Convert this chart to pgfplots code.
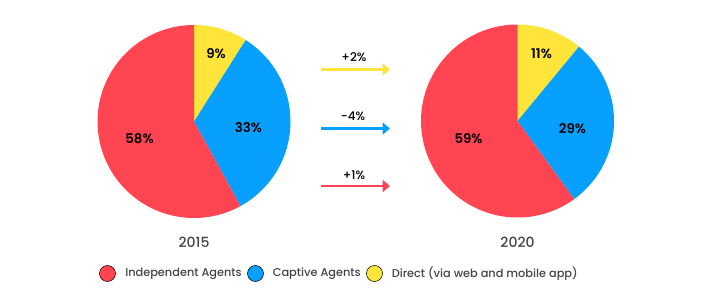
\documentclass[border=0pt]{standalone}
\usepackage{pgfplots}
\pgfplotsset{compat=1.18}
\usetikzlibrary{arrows.meta}
\usepackage{fontspec}
\setmainfont{Poppins}[BoldFont={Poppins SemiBold}]
\newfontfamily\med{Poppins Medium}
\definecolor{pred}{RGB}{255,68,82}
\definecolor{pblue}{RGB}{8,160,255}
\definecolor{pyel}{RGB}{255,228,58}
\definecolor{tgrey}{RGB}{68,68,68}
% pie values (percent)
\def\LDirect{9}\def\LCaptive{33}\def\LIndep{58}
\def\RDirect{11}\def\RCaptive{29}\def\RIndep{59}
\def\Rad{96.5}
\newcommand{\pieslice}[5]{% cx, cy, start cum %, end cum %, colour
  \addplot[fill=#5, draw=none, domain={90-3.6*(#4)}:{90-3.6*(#3)}, samples=120, variable=\t]
    ({#1+\Rad*cos(\t)},{#2-\Rad*sin(\t)}) -- (axis cs:#1,#2) -- cycle;
}
\begin{document}
\begin{tikzpicture}
\begin{axis}[
  scale only axis, width=534pt, height=230.25pt,
  xmin=0, xmax=712, ymin=0, ymax=307, y dir=reverse,
  hide axis, clip=false,
]
% 2015 pie
\pieslice{194}{121.5}{0}{\LDirect}{pyel}
\pieslice{194}{121.5}{\LDirect}{\LDirect+\LCaptive}{pblue}
\pieslice{194}{121.5}{\LDirect+\LCaptive}{100}{pred}
% 2020 pie
\pieslice{517.5}{121}{0}{\RDirect}{pyel}
\pieslice{517.5}{121}{\RDirect}{\RDirect+\RCaptive}{pblue}
\pieslice{517.5}{121}{\RDirect+\RCaptive}{100}{pred}
% slice labels
\node[font=\fontsize{10}{12}\selectfont\bfseries] at (axis cs:216,53.5) {\LDirect\%};
\node[font=\fontsize{10}{12}\selectfont\bfseries] at (axis cs:248.5,127.5) {\LCaptive\%};
\node[font=\fontsize{10}{12}\selectfont\bfseries] at (axis cs:139.5,139) {\LIndep\%};
\node[font=\fontsize{10}{12}\selectfont\bfseries] at (axis cs:541.5,53.5) {\RDirect\%};
\node[font=\fontsize{10}{12}\selectfont\bfseries] at (axis cs:572.5,128.5) {\RCaptive\%};
\node[font=\fontsize{10}{12}\selectfont\bfseries] at (axis cs:468.5,139) {\RIndep\%};
% years
\node[font=\fontsize{10.5}{12}\selectfont\med, text=tgrey] at (axis cs:194,242) {2015};
\node[font=\fontsize{10.5}{12}\selectfont\med, text=tgrey] at (axis cs:517.5,242) {2020};
% change arrows
\addplot[pyel, line width=1.9pt, -{Triangle[length=5.5pt,width=9pt]}] coordinates {(320.5,69.5) (390,69.5)};
\addplot[pblue, line width=1.9pt, -{Triangle[length=5.5pt,width=9pt]}] coordinates {(320.5,128.5) (390,128.5)};
\addplot[pred, line width=1.9pt, -{Triangle[length=5.5pt,width=9pt]}] coordinates {(320.5,186) (390,186)};
\node[font=\fontsize{9}{10}\selectfont\med] at (axis cs:354,57) {+2\%};
\node[font=\fontsize{9}{10}\selectfont\med] at (axis cs:353,116) {-4\%};
\node[font=\fontsize{9}{10}\selectfont\med] at (axis cs:354,175) {+1\%};
% legend
\addplot[only marks, mark=*, mark size=6pt, mark options={draw=none,fill=pred}] coordinates {(107.5,273.5)};
\addplot[only marks, mark=*, mark size=6pt, mark options={draw=none,fill=pblue}] coordinates {(255.5,273.5)};
\addplot[only marks, mark=*, mark size=6pt, mark options={draw=none,fill=pyel}] coordinates {(374.5,273.5)};
\node[anchor=west, inner sep=0pt, text=tgrey, font=\fontsize{8.5}{11}\selectfont\med] at (axis cs:125,273.5) {Independent Agents};
\node[anchor=west, inner sep=0pt, text=tgrey, font=\fontsize{8.5}{11}\selectfont\med] at (axis cs:272.5,273.5) {Captive Agents};
\node[anchor=west, inner sep=0pt, text=tgrey, font=\fontsize{8.5}{11}\selectfont\med] at (axis cs:391.5,273.5) {Direct (via web and mobile app)};
\coordinate (SW) at (rel axis cs:0,0);
\coordinate (NE) at (rel axis cs:1,1);
\end{axis}
\pgfresetboundingbox
\path[use as bounding box] (SW) rectangle (NE);
\end{tikzpicture}
\end{document}
